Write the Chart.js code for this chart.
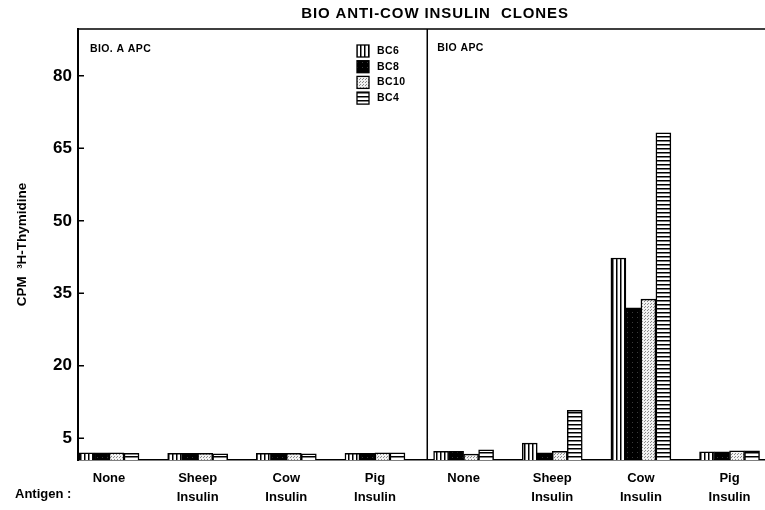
<!DOCTYPE html>
<html>
<head>
<meta charset="utf-8">
<title>BIO anti-cow insulin clones</title>
<script src="https://cdn.jsdelivr.net/npm/chart.js@4/dist/chart.umd.min.js"></script>
<style>
  html, body { margin: 0; padding: 0; background: #fff; }
  #wrap { position: relative; width: 765px; height: 510px; }
</style>
</head>
<body>
<div id="wrap"><canvas id="chart" width="765" height="510"></canvas></div>
<script>
// Antigens, same order in both APC panels
const antigens = [['None'], ['Sheep', 'Insulin'], ['Cow', 'Insulin'], ['Pig', 'Insulin']];
const panels = ['BIO. A APC', 'BIO APC'];
const clones = ['BC6', 'BC8', 'BC10', 'BC4'];

// CPM 3H-thymidine: first four values = BIO.A APC, last four = BIO APC
const bc6  = [2.0, 1.9, 1.9, 1.9, 2.3, 4.0, 42.3, 2.2];
const bc8  = [2.0, 1.9, 1.9, 1.9, 2.3, 2.0, 32.0, 2.2];
const bc10 = [2.0, 1.9, 1.9, 2.0, 1.7, 2.3, 33.8, 2.4];
const bc4  = [1.9, 1.8, 1.8, 2.0, 2.6, 10.8, 68.2, 2.4];
const yTicks = [5, 20, 35, 50, 65, 80];

const FONT = "'Liberation Sans', Arial, sans-serif";
const panelSplit = 3.59;   // x value of the line between the two panels

/**
 * Small repeating fill so the bars look like the hatched originals.
 */
function makePattern(w, h, draw) {
    const c = document.createElement('canvas');
    c.width = w;
    c.height = h;
    const g = c.getContext('2d');
    draw(g);
    return g.createPattern(c, 'repeat');
}

const fills = [
    // BC6 - vertical lines
    makePattern(4, 4, g => { g.fillStyle = '#fff'; g.fillRect(0, 0, 4, 4); g.fillStyle = '#000'; g.fillRect(0, 0, 1.5, 4); }),
    // BC8 - nearly solid black
    makePattern(5, 5, g => { g.fillStyle = '#000'; g.fillRect(0, 0, 5, 5); g.fillStyle = '#3a3a3a'; g.fillRect(2, 2, 1, 1); }),
    // BC10 - light stipple
    makePattern(3, 3, g => { g.fillStyle = '#f2f2f2'; g.fillRect(0, 0, 3, 3); g.fillStyle = '#8a8a8a'; g.fillRect(0, 0, 1, 1); g.fillRect(2, 1, 1, 1); }),
    // BC4 - horizontal lines
    makePattern(4, 4, g => { g.fillStyle = '#fff'; g.fillRect(0, 0, 4, 4); g.fillStyle = '#000'; g.fillRect(0, 0, 4, 1.5); })
];

const series = [bc6, bc8, bc10, bc4];

// frame, inner ticks, panel labels, legend, title
const decorations = {
    id: 'decorations',
    afterDraw(chart) {
        const { ctx, chartArea: area, scales } = chart;
        const splitX = scales.x.getPixelForValue(panelSplit);
        ctx.save();
        ctx.strokeStyle = '#000';
        ctx.lineWidth = 1.5;
        ctx.beginPath();
        ctx.moveTo(area.left, area.top);
        ctx.lineTo(area.right, area.top);
        ctx.moveTo(splitX, area.top);
        ctx.lineTo(splitX, area.bottom);
        yTicks.forEach(v => {
            const y = scales.y.getPixelForValue(v);
            ctx.moveTo(area.left, y);
            ctx.lineTo(area.left + 6, y);
        });
        ctx.stroke();

        ctx.fillStyle = '#000';
        ctx.textBaseline = 'middle';
        ctx.textAlign = 'left';
        ctx.font = `bold 10.5px ${FONT}`;
        ctx.letterSpacing = '0.4px';
        ctx.fillText(panels[0], area.left + 12, 49);
        ctx.fillText(panels[1], splitX + 10, 48);

        // legend
        clones.forEach((name, k) => {
            const y = 51 + k * 15.7;
            ctx.fillStyle = fills[k];
            ctx.fillRect(357, y - 6, 12, 12);
            ctx.lineWidth = 1.3;
            ctx.strokeRect(357, y - 6, 12, 12);
            ctx.fillStyle = '#000';
            ctx.fillText(name, 377, y);
        });

        ctx.textAlign = 'center';
        ctx.font = `bold 15px ${FONT}`;
        ctx.letterSpacing = '0.9px';
        ctx.fillText('BIO ANTI-COW INSULIN  CLONES', 435, 14);

        ctx.textAlign = 'left';
        ctx.letterSpacing = '0px';
        ctx.font = `bold 13px ${FONT}`;
        ctx.fillText('Antigen :', 15, 494);
        ctx.restore();
    }
};

new Chart(document.getElementById('chart'), {
    type: 'bar',
    data: {
        datasets: clones.map((name, k) => ({
            label: name,
            data: series[k].map((v, i) => ({ x: i, y: v })),
            backgroundColor: fills[k],
            borderColor: '#000',
            borderWidth: 1.5,
            barThickness: 15
        }))
    },
    options: {
        responsive: false,
        animation: false,
        layout: { padding: { top: 29, right: 0, left: 0, bottom: 0 } },
        plugins: {
            legend: { display: false },
            tooltip: { enabled: false },
            title: { display: false }
        },
        scales: {
            x: {
                type: 'linear',
                offset: false,
                min: -0.35,
                max: 7.4,
                afterBuildTicks: s => { s.ticks = antigens.concat(antigens).map((_, i) => ({ value: i })); },
                ticks: {
                    callback: v => antigens[v % 4],
                    color: '#000',
                    font: { family: FONT, size: 13, weight: 'bold', lineHeight: 1.45 },
                    padding: 9,
                    maxRotation: 0,
                    autoSkip: false
                },
                grid: { display: false, drawTicks: false },
                border: { color: '#000', width: 1.5 },
                afterFit: s => { s.height = 50; }
            },
            y: {
                min: 0.5,
                max: 89.7,
                afterBuildTicks: s => { s.ticks = yTicks.map(v => ({ value: v })); },
                ticks: {
                    color: '#000',
                    font: { family: FONT, size: 17, weight: 'bold' },
                    padding: 6
                },
                grid: { display: false, drawTicks: false },
                border: { color: '#000', width: 2 },
                title: {
                    display: true,
                    text: 'CPM  ³H-Thymidine',
                    color: '#000',
                    font: { family: FONT, size: 13.5, weight: 'bold' },
                    padding: { top: 14, bottom: 0 }
                },
                afterFit: s => { s.width = 78; }
            }
        }
    },
    plugins: [decorations]
});
</script>
</body>
</html>
